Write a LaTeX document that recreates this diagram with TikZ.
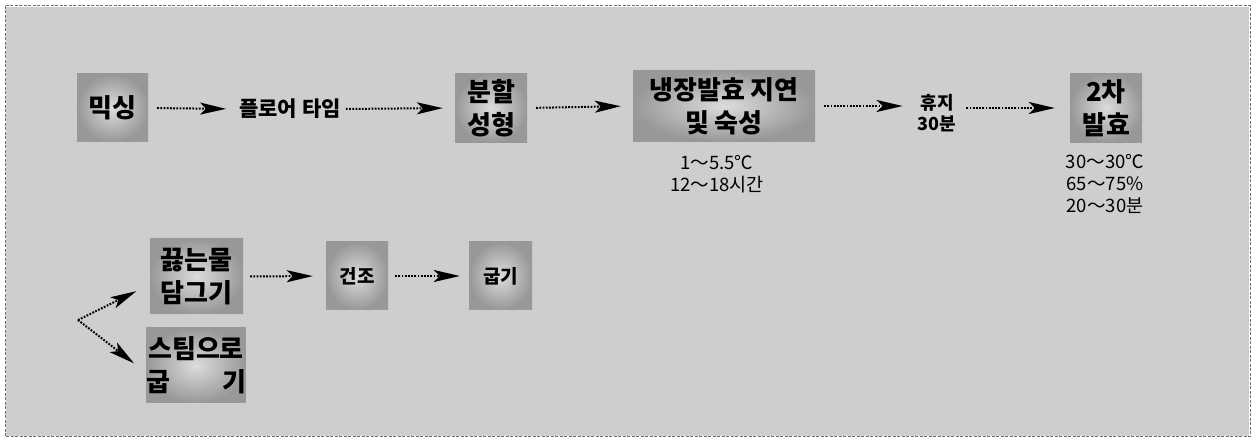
\documentclass[tikz,border=0pt]{standalone}
\usepackage{fontspec}
\setmainfont{Noto Sans CJK KR}
\usetikzlibrary{arrows.meta}
\definecolor{bg}{HTML}{CECECE}
\definecolor{frame}{HTML}{707070}
\definecolor{boxin}{HTML}{DCDCDC}
\definecolor{boxout}{HTML}{989898}
\begin{document}
\begin{tikzpicture}[x=1pt,y=-1pt,
  box/.style={shade, inner color=boxin, outer color=boxout, inner sep=0pt,
    align=center, font=\fontsize{26}{33}\selectfont\bfseries},
  lbl/.style={inner sep=1pt, align=center, font=\fontsize{18.5}{22}\selectfont},
  blbl/.style={inner sep=1pt, align=center, font=\fontsize{21}{24}\selectfont\bfseries},
  arr/.style={line width=2pt, dash pattern=on 1.8pt off 1.4pt,
    -{Stealth[length=26pt,width=12pt,inset=6pt]}, shorten <=9pt, shorten >=12pt}
]
\useasboundingbox (0,0) rectangle (1254,443);
\fill[white] (0,0) rectangle (1254,443);
\fill[bg] (6,7) rectangle (1249,436);
\draw[frame, line width=1pt, dash pattern=on 3pt off 1.5pt] (5,6) rectangle (1250,437);

% top row
\node[box, minimum width=71pt, minimum height=68pt] (mix) at (112.5,108) {믹싱};
\node[blbl] (floor) at (290,109) {플로어 타임};
\node[box, minimum width=72pt, minimum height=69pt] (div) at (491,108) {분할\\성형};
\node[box, minimum width=182pt, minimum height=71pt] (cold) at (724,106) {냉장발효 지연\\및 숙성};
\node[lbl] (coldl) at (717,174) {1～5.5℃\\12～18시간};
\node[lbl, font=\fontsize{18}{21}\selectfont\bfseries] (rest) at (937,113) {휴지\\30분};
\node[box, minimum width=72pt, minimum height=69pt] (sec) at (1106,108) {2차\\발효};
\node[lbl] (secl) at (1105,184) {30～30℃\\65～75\%\\20～30분};

\draw[arr] (mix.east) -- (floor.west);
\draw[arr, shorten <=4pt] (floor.east) -- (div.west);
\draw[arr] (div.east) -- (cold.west);
\draw[arr, shorten >=14pt] (cold.east) -- (cold.east -| rest.west);
\draw[arr, shorten >=15pt] (rest.east |- sec.west) -- (sec.west);

% bottom row
\node[box, minimum width=93pt, minimum height=75pt] (boil) at (196.5,276.5) {끓는물\\담그기};
\node[box, minimum width=94pt, minimum height=75pt] (steam) at (196,365.5) {스팀으로\\굽\hspace{2em}기};
\node[box, minimum width=62pt, minimum height=68pt, font=\fontsize{19}{24}\selectfont\bfseries] (dry) at (357,276) {건조};
\node[box, minimum width=63pt, minimum height=68pt, font=\fontsize{19}{24}\selectfont\bfseries] (bake) at (500.5,276) {굽기};
\coordinate (split) at (78,320);

\draw[arr, shorten <=0pt, shorten >=15pt] (split) -- ([yshift=-8pt]boil.west);
\draw[arr, shorten <=0pt, shorten >=15pt] (split) -- ([yshift=-7pt]steam.west);
\draw[arr, shorten <=7pt, shorten >=13pt] (boil.east) -- (dry.west);
\draw[arr, shorten <=7pt, shorten >=9pt] (dry.east) -- (bake.west);
\end{tikzpicture}
\end{document}
